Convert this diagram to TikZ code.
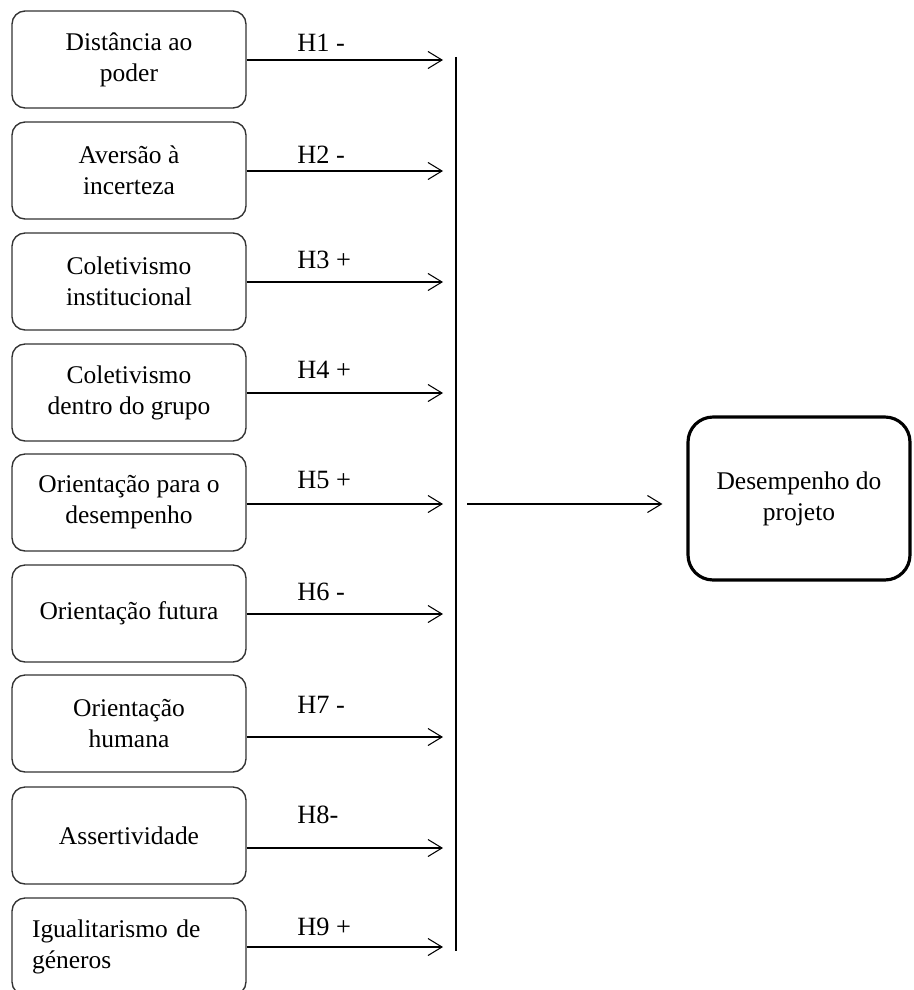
\documentclass[tikz,border=0pt]{standalone}
\usepackage{fontspec}
\setmainfont{Liberation Serif}
\usetikzlibrary{arrows.meta}

\begin{document}
\begin{tikzpicture}[x=0.02cm,y=-0.02cm,
	faktor/.style={draw=black!80,line width=0.8pt,rounded corners=0.26cm,minimum width=4.68cm,minimum height=1.94cm,align=center,font=\fontsize{14.5}{17.6}\selectfont},
	hyp/.style={anchor=base west,inner sep=0pt,font=\fontsize{15}{18}\selectfont},
	pfeil/.style={line width=0.6pt,-{Straight Barb[length=2.8mm,width=3.4mm]}}]
	\useasboundingbox (0,0) rectangle (913,990);
	\clip (0,0) rectangle (913,990);
	
	% Dimensionen
	\node[faktor] (dist)    at (129,59.5)  {Distância ao\\poder};
	\node[faktor] (aver)    at (129,170.5) {Aversão à\\incerteza};
	\node[faktor] (colinst) at (129,281.5) {Coletivismo\\institucional};
	\node[faktor] (colgrp)  at (129,392.5) {Coletivismo\\dentro do grupo};
	\node[faktor] (desemp)  at (129,502.5) {Orientação para o\\desempenho};
	\node[faktor] (futura)  at (129,613.5) {Orientação futura};
	\node[faktor] (humana)  at (129,723.5) {Orientação\\humana};
	\node[faktor] (assert)  at (129,835.5) {Assertividade};
	\node[faktor,text width=3.88cm,align=left] (igual) at (129,946.5) {Igualitarismo de\\géneros};
	
	\node[faktor,line width=1.8pt,draw=black,rounded corners=0.5cm,minimum width=4.44cm,minimum height=3.26cm] (projeto) at (799,498.5) {Desempenho do\\projeto};
	
	% Sammellinie
	\coordinate (oben)  at (456,57);
	\coordinate (unten) at (456,951);
	\draw[line width=0.6pt] (oben) -- (unten);
	\foreach \i/\y in {1/60,2/171,3/282,4/393,5/504,6/614,7/737,8/848,9/947}
		\coordinate (l\i) at (456,\y);
	
	% Hypothesen
	\draw[pfeil,shorten >=0.26cm] (dist.east |- l1)    -- (l1);
	\draw[pfeil,shorten >=0.26cm] (aver.east |- l2)    -- (l2);
	\draw[pfeil,shorten >=0.26cm] (colinst.east |- l3) -- (l3);
	\draw[pfeil,shorten >=0.26cm] (colgrp.east |- l4)  -- (l4);
	\draw[pfeil,shorten >=0.26cm] (desemp.east |- l5)  -- (l5);
	\draw[pfeil,shorten >=0.26cm] (futura.east |- l6)  -- (l6);
	\draw[pfeil,shorten >=0.26cm] (humana.east |- l7)  -- (l7);
	\draw[pfeil,shorten >=0.26cm] (assert.east |- l8)  -- (l8);
	\draw[pfeil,shorten >=0.26cm] (igual.east |- l9)   -- (l9);
	
	\node[hyp] (h1) at (297,52)  {H1 -};
	\node[hyp] (h2) at (297,163) {H2 -};
	\node[hyp] (h3) at (297,268) {H3 +};
	\node[hyp] (h4) at (297,378) {H4 +};
	\node[hyp] (h5) at (297,488) {H5 +};
	\node[hyp] (h6) at (297,600) {H6 -};
	\node[hyp] (h7) at (297,713) {H7 -};
	\node[hyp] (h8) at (297,823) {H8-};
	\node[hyp] (h9) at (297,935) {H9 +};
	
	\draw[pfeil,shorten <=0.22cm,shorten >=0.48cm] (l5) -- (projeto.west |- l5);
\end{tikzpicture}
\end{document}
